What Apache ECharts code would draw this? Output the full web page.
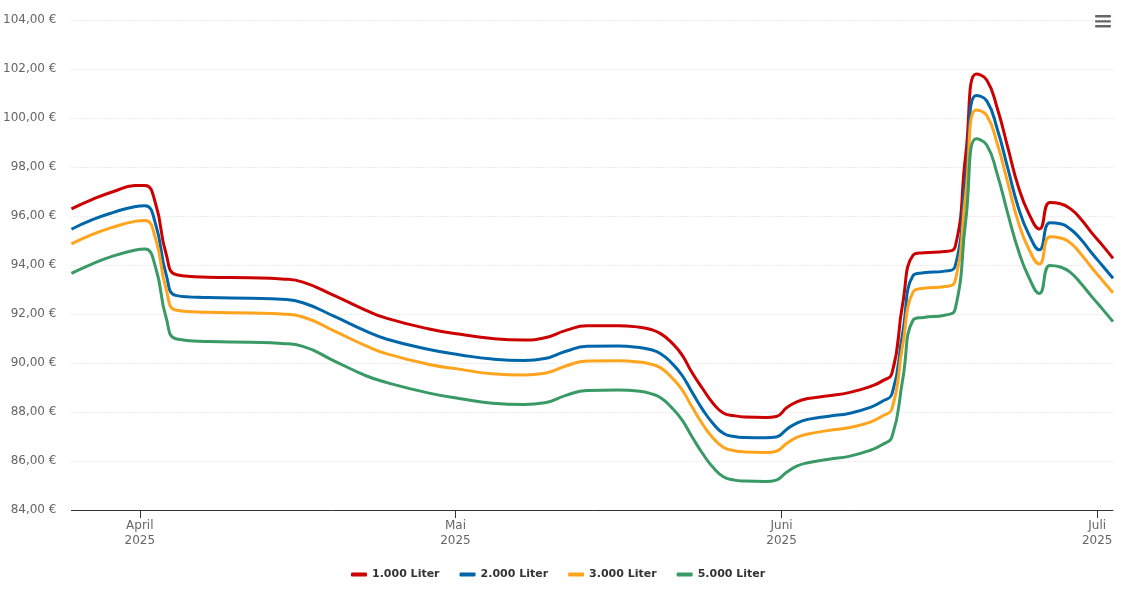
<!DOCTYPE html>
<html>
<head>
<meta charset="utf-8">
<script src="https://cdn.jsdelivr.net/npm/echarts@6/dist/echarts.min.js"></script>
<style>
html,body{margin:0;padding:0;background:#fff;}
#chart{width:1124px;height:613px;}
</style>
</head>
<body>
<div id="chart"></div>
<script>
const dates = ['2025-03-25','2025-03-27','2025-03-29','2025-03-31','2025-04-01','2025-04-02','2025-04-03','2025-04-04','2025-04-07','2025-04-11','2025-04-14','2025-04-16','2025-04-19','2025-04-22','2025-04-24','2025-04-28','2025-05-01','2025-05-04','2025-05-07','2025-05-09','2025-05-11','2025-05-13','2025-05-16','2025-05-18','2025-05-19','2025-05-20','2025-05-21','2025-05-22','2025-05-23','2025-05-24','2025-05-25','2025-05-26','2025-05-27','2025-05-28','2025-05-30','2025-05-31','2025-06-01','2025-06-02','2025-06-03','2025-06-05','2025-06-07','2025-06-09','2025-06-10','2025-06-11','2025-06-12','2025-06-13','2025-06-14','2025-06-16','2025-06-17','2025-06-18','2025-06-19','2025-06-20','2025-06-21','2025-06-22','2025-06-23','2025-06-24','2025-06-25','2025-06-26','2025-06-27','2025-06-28','2025-06-29','2025-06-30','2025-07-01','2025-07-02'];

const liter1000 = [96.29,96.68,97.0,97.24,97.25,96.5,94.45,93.6,93.5,93.48,93.43,93.3,92.75,92.15,91.82,91.39,91.17,91.0,90.94,91.03,91.33,91.52,91.52,91.46,91.38,91.2,90.85,90.35,89.6,88.95,88.35,87.95,87.85,87.8,87.78,87.82,88.18,88.42,88.55,88.66,88.8,89.05,89.25,89.6,92.4,94.4,94.5,94.55,94.75,98.5,101.8,101.55,100.4,98.8,97.2,96.1,95.47,96.55,96.5,96.28,95.85,95.3,94.8,94.27];
const liter2000 = [95.46,95.85,96.15,96.38,96.42,95.67,93.62,92.75,92.67,92.64,92.6,92.46,91.9,91.3,90.97,90.55,90.33,90.16,90.1,90.18,90.48,90.68,90.69,90.63,90.55,90.38,90.02,89.52,88.8,88.1,87.52,87.12,87.0,86.96,86.95,86.98,87.3,87.56,87.7,87.83,87.95,88.2,88.42,88.75,91.2,93.57,93.68,93.75,93.95,97.5,100.92,100.7,99.55,97.95,96.35,95.25,94.62,95.72,95.68,95.45,95.02,94.48,93.97,93.46];
const liter3000 = [94.86,95.25,95.55,95.78,95.82,95.07,93.02,92.15,92.07,92.04,92.0,91.88,91.3,90.7,90.37,89.94,89.74,89.56,89.51,89.58,89.88,90.08,90.09,90.04,89.96,89.8,89.43,88.93,88.2,87.5,86.93,86.55,86.42,86.37,86.35,86.4,86.72,86.97,87.1,87.25,87.37,87.6,87.82,88.15,90.7,92.9,93.05,93.12,93.35,96.9,100.33,100.1,98.95,97.35,95.75,94.65,94.04,95.15,95.1,94.88,94.42,93.88,93.37,92.87];
const liter5000 = [93.66,94.05,94.37,94.6,94.65,93.9,91.85,90.98,90.88,90.85,90.8,90.68,90.08,89.48,89.2,88.77,88.54,88.36,88.31,88.38,88.68,88.88,88.9,88.85,88.76,88.58,88.2,87.7,86.98,86.3,85.73,85.35,85.22,85.18,85.16,85.22,85.55,85.8,85.93,86.07,86.2,86.45,86.65,87.0,89.3,91.75,91.86,91.95,92.2,95.8,99.15,98.9,97.7,96.1,94.6,93.5,92.84,93.98,93.92,93.68,93.22,92.7,92.2,91.69];

const seriesNames = ['1.000 Liter','2.000 Liter','3.000 Liter','5.000 Liter'];
const seriesColors = ['#cc0000','#0066aa','#ffa41c','#3a9a66'];
const tickDates = ['2025-04-01','2025-05-01','2025-06-01','2025-07-01'];
const tickLabels = ['April\n2025','Mai\n2025','Juni\n2025','Juli\n2025'];

const ts = d => new Date(d + 'T00:00:00').getTime();
const pointTs = d => new Date(d + 'T12:00:00').getTime();
const tickValues = tickDates.map(ts);
const allValues = [liter1000, liter2000, liter3000, liter5000];

const chart = echarts.init(document.getElementById('chart'), null, {renderer: 'canvas'});
const font = 'DejaVu Sans';

chart.setOption({
  animation: false,
  backgroundColor: '#ffffff',
  grid: {left: 70, right: 11, top: 20, bottom: 103, containLabel: false},
  legend: {
    left: 346, top: 564,
    icon: 'roundRect', itemWidth: 16, itemHeight: 4, itemGap: 20,
    textStyle: {color: '#333', fontWeight: 'bold', fontSize: 11, fontFamily: font},
    data: seriesNames
  },
  xAxis: {
    type: 'value',
    min: pointTs(dates[0]),
    max: pointTs(dates[dates.length - 1]),
    axisLine: {show: true, onZero: false, lineStyle: {color: '#333', width: 1}},
    axisTick: {show: true, length: 8, lineStyle: {color: '#333'}, customValues: tickValues},
    axisLabel: {
      customValues: tickValues,
      color: '#666', fontSize: 12, lineHeight: 15, margin: 8, fontFamily: font,
      formatter: function (v) {
        const i = tickValues.indexOf(v);
        return i >= 0 ? tickLabels[i] : '';
      }
    },
    splitLine: {show: false}
  },
  yAxis: {
    type: 'value', min: 84, max: 104, interval: 2,
    axisLine: {show: false}, axisTick: {show: false},
    axisLabel: {
      color: '#666', fontSize: 12, margin: 15, fontFamily: font,
      formatter: v => v.toFixed(2).replace('.', ',') + ' €'
    },
    splitLine: {show: true, lineStyle: {color: '#d9d9d9', type: [1, 2], width: 1}}
  },
  graphic: [{
    type: 'group', right: 13, top: 15,
    children: [
      {type: 'rect', shape: {x: 0, y: 0, width: 16, height: 2.6, r: 1}, style: {fill: '#666'}},
      {type: 'rect', shape: {x: 0, y: 5, width: 16, height: 2.6, r: 1}, style: {fill: '#666'}},
      {type: 'rect', shape: {x: 0, y: 10, width: 16, height: 2.6, r: 1}, style: {fill: '#666'}}
    ]
  }],
  series: seriesNames.map((name, k) => ({
    name: name,
    type: 'line',
    smooth: true,
    symbol: 'none',
    color: seriesColors[k],
    lineStyle: {width: 3, color: seriesColors[k]},
    data: dates.map((d, i) => [pointTs(d), allValues[k][i]])
  }))
});
</script>
</body>
</html>
